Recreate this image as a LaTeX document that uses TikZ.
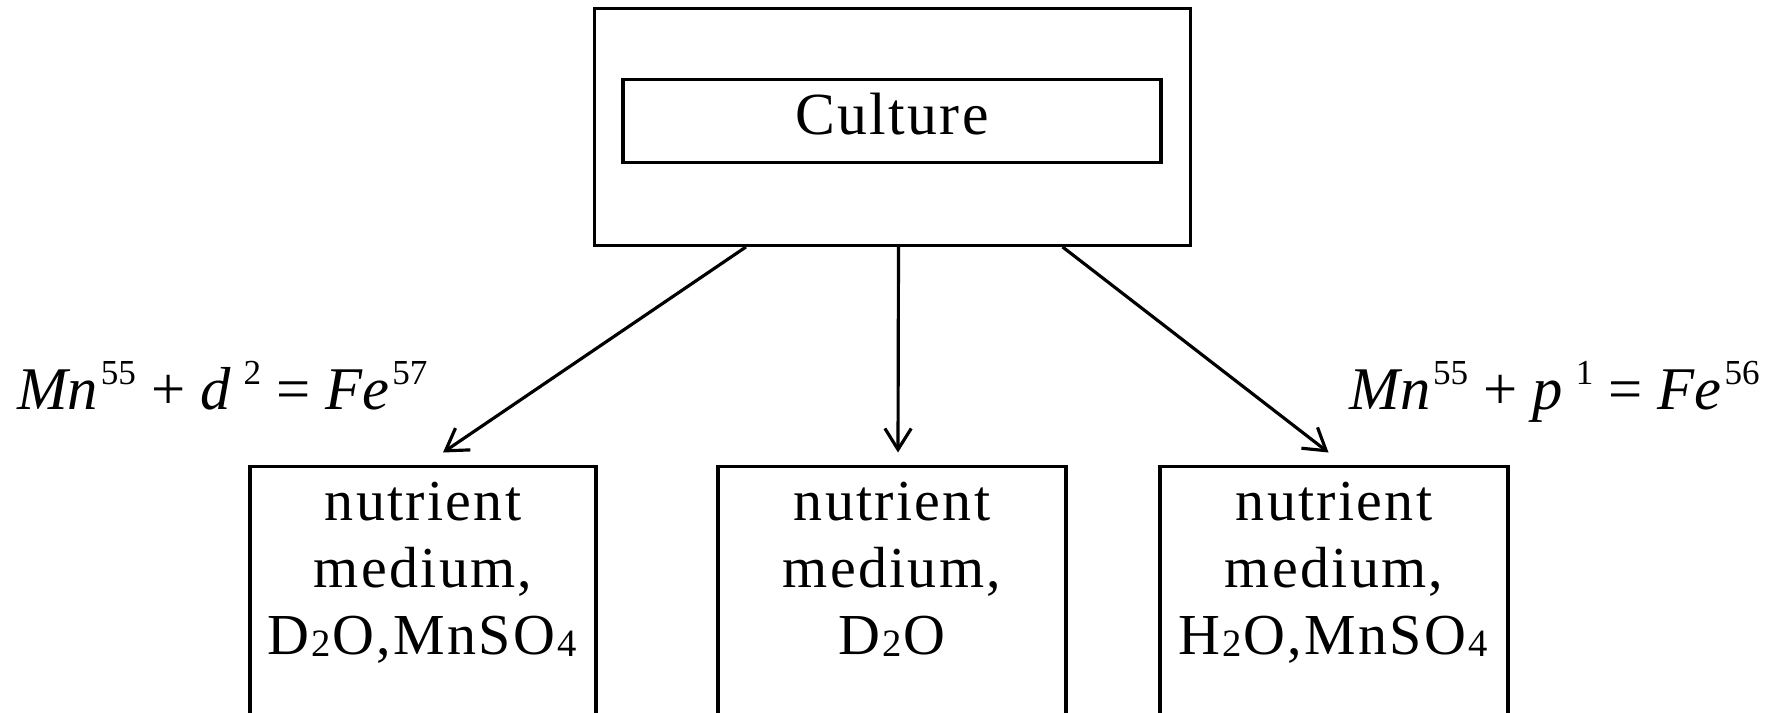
\documentclass[tikz,border=0pt]{standalone}
\usepackage{fontspec}
\setmainfont{Liberation Serif}
\newfontfamily\boxfont{Liberation Serif}[LetterSpace=4]
\usetikzlibrary{arrows.meta}
\newcommand{\lowsub}[1]{\kern1pt\raisebox{-1.5pt}{\fontsize{22}{22}\selectfont #1}\kern1pt}
\newcommand{\highsup}[1]{\kern1.5pt\raisebox{14pt}{\fontsize{20}{20}\selectfont #1}}

\begin{document}
\begin{tikzpicture}[>={Straight Barb[length=12pt,width=15pt]},
  box/.style={draw,line width=1.9pt,inner sep=0pt},
  medium/.style={box,anchor=north,align=center,inner ysep=0.32cm,text depth=2.4cm,
    font=\boxfont\fontsize{33}{38}\selectfont},
  reaction/.style={inner sep=0pt,font=\fontsize{34.5}{40}\selectfont}]
\clip (0,0) rectangle (35.46,-14.26);

\node[box,minimum width=11.92cm,minimum height=4.73cm] (top) at (17.85,-2.54) {};
\node[box,minimum width=10.76cm,minimum height=1.67cm,text depth=8pt,
  font=\boxfont\fontsize{34}{38}\selectfont] (culture) at (17.84,-2.42) {Culture};

\node[medium,minimum width=6.92cm] (left) at (8.46,-9.29) {nutrient\\medium,\\D\lowsub{2}O,MnSO\lowsub{4}};
\node[medium,minimum width=6.96cm] (mid) at (17.84,-9.29) {nutrient\\medium,\\D\lowsub{2}O};
\node[medium,minimum width=6.96cm] (right) at (26.68,-9.29) {nutrient\\medium,\\H\lowsub{2}O,MnSO\lowsub{4}};

\node[reaction,anchor=base west] (deut) at (0.34,-8.18) {\textit{Mn}\highsup{55} + \textit{d}\,\highsup{2} = \textit{Fe}\highsup{57}};
\node[reaction,anchor=base east] (prot) at (35.2,-8.18) {\textit{Mn}\highsup{55} + \textit{p}\,\highsup{1} = \textit{Fe}\highsup{56}};

\draw[->,line width=1.8pt] ([xshift=-2.93cm]top.south) -- ([xshift=0.40cm,yshift=0.24cm]left.north);
\draw[->,line width=1.8pt] ([xshift=0.12cm]top.south) -- ([xshift=0.12cm,yshift=0.24cm]mid.north);
\draw[->,line width=1.8pt] ([xshift=3.40cm]top.south) -- ([xshift=-0.11cm,yshift=0.24cm]right.north);
\end{tikzpicture}
\end{document}
